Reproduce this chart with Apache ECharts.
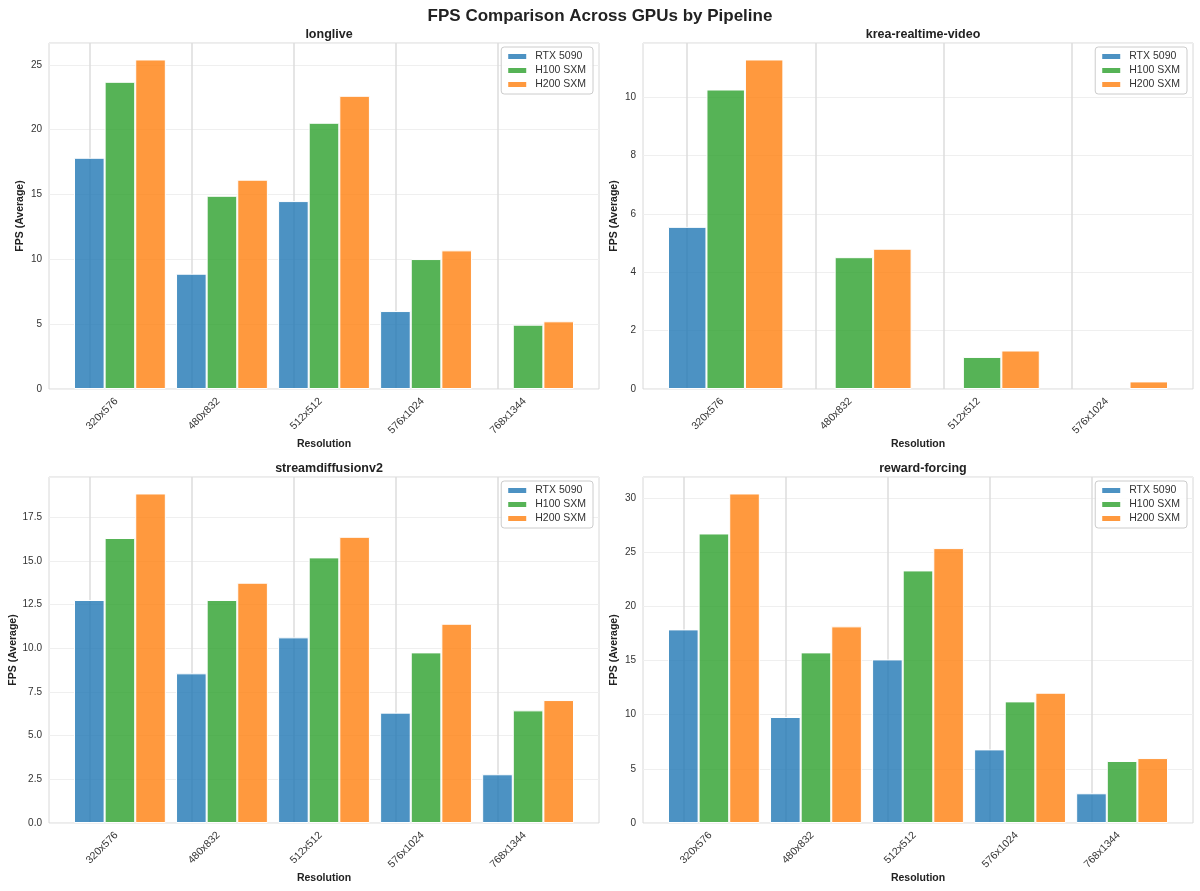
<!DOCTYPE html>
<html><head><meta charset="utf-8">
<script src="https://cdn.jsdelivr.net/npm/echarts@6/dist/echarts.min.js"></script>
<style>html,body{margin:0;padding:0;background:#fff}#c{width:1200px;height:891px}</style>
</head><body><div id="c"></div>
<script>
// ---- data ----
const categories = ['320x576', '480x832', '512x512', '576x1024', '768x1344'];
const kreaCategories = ['320x576', '480x832', '512x512', '576x1024'];
const gpus = ['RTX 5090', 'H100 SXM', 'H200 SXM'];

const longliveRTX  = [17.83, 8.89, 14.49, 6.01, null];
const longliveH100 = [23.69, 14.90, 20.53, 10.02, 4.96];
const longliveH200 = [25.41, 16.14, 22.61, 10.69, 5.22];

const kreaRTX  = [5.56, null, null, null];
const kreaH100 = [10.27, 4.52, 1.10, null];
const kreaH200 = [11.30, 4.81, 1.32, 0.26];

const streamRTX  = [12.77, 8.57, 10.63, 6.32, 2.79];
const streamH100 = [16.32, 12.77, 15.21, 9.77, 6.45];
const streamH200 = [18.87, 13.76, 16.39, 11.41, 7.04];

const rewardRTX  = [17.86, 9.78, 15.09, 6.79, 2.74];
const rewardH100 = [26.71, 15.74, 23.30, 11.22, 5.72];
const rewardH200 = [30.40, 18.14, 25.36, 12.02, 5.99];

// ---- layout / style ----
const FONT = 'Liberation Sans, Arial, Helvetica, sans-serif';
const colors = ['rgba(31,119,180,0.8)', 'rgba(44,160,44,0.8)', 'rgba(255,127,14,0.8)'];
const panels = [
  {title: 'longlive', cats: categories, series: [longliveRTX, longliveH100, longliveH200], interval: 5, dec: 0, left: 49, top: 43},
  {title: 'krea-realtime-video', cats: kreaCategories, series: [kreaRTX, kreaH100, kreaH200], interval: 2, dec: 0, left: 643, top: 43},
  {title: 'streamdiffusionv2', cats: categories, series: [streamRTX, streamH100, streamH200], interval: 2.5, dec: 1, left: 49, top: 477},
  {title: 'reward-forcing', cats: categories, series: [rewardRTX, rewardH100, rewardH200], interval: 5, dec: 0, left: 643, top: 477}
];
const W = 550, H = 346;

const option = {
  animation: false,
  backgroundColor: '#fff',
  textStyle: {fontFamily: FONT},
  title: [{text: 'FPS Comparison Across GPUs by Pipeline', left: 'center', top: 3,
           textStyle: {fontSize: 17, fontWeight: 'bold', color: '#222', fontFamily: FONT}}],
  legend: [], grid: [], xAxis: [], yAxis: [], series: []
};

panels.forEach((p, i) => {
  const n = p.cats.length;
  const vals = p.series.flat().filter(v => v != null);
  const ymax = Math.max(...vals) * 1.05;
  // matplotlib-like x limits: bar extent +/- 5% margin
  const barHalf = 0.45;
  const extent = (n - 1) + 2 * barHalf;
  const margin = 0.05 * extent;
  const span = extent + 2 * margin;
  const s = W / span;               // pixels per category
  const innerLeft = p.left + (barHalf + margin - 0.5) * s;
  const innerWidth = n * s;
  const og = 2 * i, ig = 2 * i + 1;

  option.title.push({text: p.title, left: p.left + W / 2, top: p.top - 20, textAlign: 'center',
    textStyle: {fontSize: 12.5, fontWeight: 'bold', color: '#222', fontFamily: FONT}});

  option.grid.push({left: p.left, top: p.top, width: W, height: H, show: true,
    borderColor: '#d8d8d8', borderWidth: 1, backgroundColor: 'transparent', containLabel: false});
  option.grid.push({left: innerLeft, top: p.top, width: innerWidth, height: H, containLabel: false});

  option.xAxis.push({type: 'value', gridIndex: og, min: 0, max: 1, show: false});
  option.yAxis.push({type: 'value', gridIndex: og, min: 0, max: ymax, interval: p.interval,
    name: 'FPS (Average)', nameLocation: 'middle', nameGap: 23,
    nameTextStyle: {fontSize: 10.5, fontWeight: 'bold', color: '#222', fontFamily: FONT},
    axisLine: {show: false}, axisTick: {show: false},
    axisLabel: {showMaxLabel: false, fontSize: 10, color: '#333', margin: 7, fontFamily: FONT,
      formatter: v => v.toFixed(p.dec)},
    splitLine: {show: true, lineStyle: {color: '#efefef', width: 1}}});

  option.xAxis.push({type: 'category', gridIndex: ig, data: p.cats,
    name: 'Resolution', nameLocation: 'middle', nameGap: 48,
    nameTextStyle: {fontSize: 10.5, fontWeight: 'bold', color: '#222', fontFamily: FONT},
    axisLine: {show: false}, axisTick: {show: false}, splitLine: {show: false},
    axisLabel: {rotate: 45, interval: 0, fontSize: 10.5, color: '#333', margin: 7, fontFamily: FONT,
      padding: [0, 5, 0, 0]}});
  option.yAxis.push({type: 'value', gridIndex: ig, min: 0, max: ymax, show: false});

  p.series.forEach((d, k) => {
    const ser = {
      type: 'bar', name: gpus[k], xAxisIndex: ig, yAxisIndex: ig, data: d,
      barWidth: 0.3 * s, barGap: '0%',
      itemStyle: {color: colors[k], borderColor: '#ffffff', borderWidth: 1},
      emphasis: {disabled: true}, z: 2
    };
    if (k === 0) {
      ser.markLine = {
        silent: true, z: 1, symbol: ['none', 'none'], label: {show: false},
        lineStyle: {color: '#dcdcdc', type: 'solid', width: 1.5},
        emphasis: {disabled: true},
        data: p.cats.map(c => ({xAxis: c}))
      };
    }
    option.series.push(ser);
  });

  option.legend.push({data: gpus, orient: 'vertical', right: 1200 - (p.left + W - 6), top: p.top + 4,
    icon: 'rect', itemWidth: 20, itemHeight: 7, itemGap: 3, padding: [4, 7, 4, 5],
    borderColor: '#cccccc', borderWidth: 1, borderRadius: 3, backgroundColor: 'rgba(255,255,255,0.85)',
    textStyle: {fontSize: 10.5, color: '#333', fontFamily: FONT, padding: [0, 0, 0, 3]}, selectedMode: false});
});

const chart = echarts.init(document.getElementById('c'), null, {renderer: 'canvas'});
chart.setOption(option);
</script>
</body></html>
